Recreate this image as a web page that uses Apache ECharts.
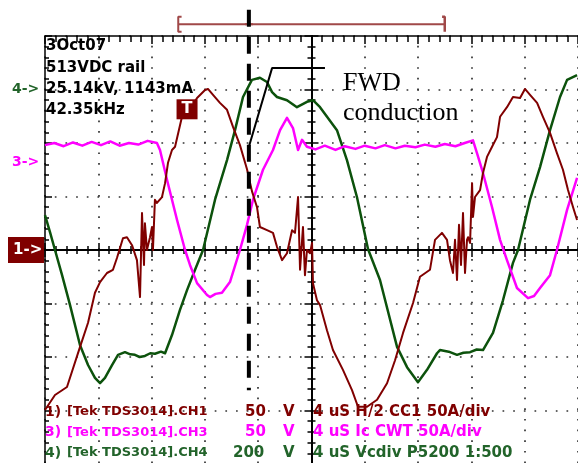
<!DOCTYPE html>
<html>
<head>
<meta charset="utf-8">
<script src="https://cdn.jsdelivr.net/npm/echarts@6/dist/echarts.min.js"></script>
<style>
html,body{margin:0;padding:0;background:#fff;}
#scope{width:578px;height:463px;}
</style>
</head>
<body>
<div id="scope"></div>
<script>
// Horizontal: time in µs (4 µs/div, 0 at screen centre). Vertical: screen divisions.

// CH1 – collector current (H/2 CC1, 50 A/div)
const ch1Points = [
  [-20.0,-2.99],[-19.25,-2.71],[-18.35,-2.56],[-17.37,-1.81],[-16.77,-1.36],[-16.25,-0.80],
  [-15.87,-0.60],[-15.35,-0.43],[-14.9,-0.37],[-14.6,-0.15],[-14.15,0.22],[-13.85,0.24],
  [-13.47,0.09],[-13.1,-0.19],[-12.87,-0.88],[-12.72,0.69],[-12.57,-0.28],[-12.5,0.50],
  [-12.35,0.0],[-12.12,0.24],[-11.97,0.43],[-11.9,0.0],[-11.75,0.94],[-11.6,0.88],
  [-11.22,0.99],[-10.99,1.25],[-10.77,1.63],[-10.47,1.87],[-10.24,1.93],[-9.72,2.49],
  [-9.34,2.56],[-8.59,2.84],[-7.99,2.99],[-7.77,3.01],[-7.39,2.90],[-6.87,2.75],
  [-6.34,2.62],[-5.89,2.30],[-5.37,1.96],[-4.84,1.51],[-4.47,1.10],[-4.09,0.80],
  [-3.87,0.43],[-3.34,0.37],[-2.89,0.32],[-2.59,0.06],[-2.21,-0.19],[-1.84,-0.06],
  [-1.46,0.37],[-1.24,0.32],[-1.01,0.99],[-0.86,-0.37],[-0.64,0.43],[-0.49,-0.47],
  [-0.34,0.0],[-0.11,-0.06],[0.04,0.13],[0.11,-0.62],[0.41,-0.94],[0.64,-1.03],
  [1.16,-1.50],[1.61,-1.87],[2.36,-2.24],[3.04,-2.62],[3.49,-2.93],[4.17,-2.93],
  [4.92,-2.80],[5.67,-2.49],[6.27,-2.06],[6.87,-1.55],[7.62,-0.99],[8.14,-0.50],
  [8.89,-0.37],[9.27,0.19],[9.79,0.32],[10.17,0.19],[10.39,-0.19],[10.62,-0.43],
  [10.77,0.19],[10.92,-0.56],[11.07,0.47],[11.22,-0.28],[11.37,0.69],[11.52,-0.43],
  [11.67,0.19],[11.75,0.24],[11.9,0.13],[12.05,1.25],[12.12,0.62],[12.27,0.99],
  [12.65,1.12],[12.87,1.44],[13.17,1.74],[13.55,1.93],[13.92,2.11],[14.15,2.49],
  [14.67,2.67],[15.12,2.86],[15.65,2.84],[16.02,3.01],[16.4,2.90],[16.93,2.75],
  [17.37,2.49],[17.9,2.19],[18.42,1.81],[18.87,1.50],[19.25,1.12],[19.63,0.80],[19.93,0.56]
];

// CH3 – Ic (CWT, 50 A/div)
const ch3Points = [
  [-20.0,1.96],[-19.3,2.00],[-18.6,1.94],[-17.9,2.01],[-17.2,1.95],[-16.5,2.02],
  [-15.8,1.96],[-15.1,2.03],[-14.4,1.95],[-13.7,2.00],[-13.0,1.97],[-12.3,2.04],
  [-11.6,2.00],[-11.37,1.87],[-10.84,1.31],[-10.09,0.56],[-9.49,0.0],[-9.12,-0.28],
  [-8.59,-0.62],[-7.84,-0.84],[-7.62,-0.88],[-7.2,-0.82],[-6.72,-0.80],[-6.12,-0.60],
  [-5.37,0.0],[-4.84,0.47],[-4.39,0.94],[-3.64,1.50],[-2.89,1.87],[-2.36,2.24],
  [-1.84,2.47],[-1.39,2.28],[-1.01,1.87],[-0.71,2.06],[-0.34,1.93],[0.3,1.88],
  [1.0,1.95],[1.8,1.87],[2.5,1.94],[3.3,1.89],[4.0,1.95],[4.8,1.90],[5.5,1.96],
  [6.3,1.90],[7.0,1.95],[7.8,1.92],[8.5,1.97],[9.3,1.93],[10.0,1.98],[10.8,1.94],
  [11.5,2.00],[12.12,2.05],[12.42,1.81],[12.87,1.44],[13.55,0.80],[14.15,0.19],
  [14.67,-0.19],[15.42,-0.71],[16.25,-0.90],[16.7,-0.86],[17.15,-0.71],[17.9,-0.47],
  [18.42,0.0],[19.18,0.75],[19.93,1.35]
];

// CH4 – Vc (P5200 1:500)
const ch4Points = [
  [-20.0,0.65],[-19.63,0.34],[-19.25,0.0],[-18.72,-0.47],[-18.12,-1.03],[-17.37,-1.78],
  [-16.77,-2.15],[-16.25,-2.39],[-15.87,-2.49],[-15.5,-2.39],[-14.97,-2.15],[-14.52,-1.96],
  [-14.0,-1.91],[-13.6,-1.95],[-13.25,-1.96],[-12.9,-2.00],[-12.5,-1.98],[-12.1,-1.93],
  [-11.75,-1.94],[-11.3,-1.90],[-10.99,-1.93],[-10.47,-1.59],[-9.87,-1.12],[-9.34,-0.75],
  [-8.74,-0.37],[-8.14,0.0],[-7.24,0.94],[-6.34,1.68],[-5.74,2.24],[-5.14,2.86],
  [-4.47,3.18],[-3.87,3.22],[-3.34,3.14],[-2.96,2.95],[-2.59,2.86],[-1.84,2.80],
  [-1.09,2.67],[-0.34,2.77],[0.11,2.80],[0.64,2.67],[1.91,2.24],[2.66,1.68],
  [3.41,0.99],[4.24,0.02],[5.14,-0.56],[6.42,-1.81],[7.17,-2.19],[7.99,-2.47],
  [8.67,-2.24],[9.42,-1.93],[9.64,-1.87],[10.3,-1.90],[10.92,-1.96],[11.4,-1.92],
  [11.9,-1.91],[12.4,-1.86],[12.87,-1.87],[13.62,-1.55],[14.37,-0.94],[15.12,-0.24],
  [15.5,0.0],[16.4,0.94],[17.15,1.55],[17.9,2.24],[18.65,2.86],[19.18,3.18],[19.93,3.27]
];

// Ground-reference markers (divisions above centre)
const channelOffsets = { ch1: 0, ch3: 1.63, ch4: 3.0 };

// Readout text
const infoLines = ['3Oct07', '513VDC rail', '25.14kV, 1143mA', '42.35kHz'];
const channelNames = ['1) [Tek TDS3014].CH1', '3) [Tek TDS3014].CH3', '4) [Tek TDS3014].CH4'];
const channelScales = ['50', '50', '200'];
const channelProbes = ['4 uS H/2 CC1 50A/div', '4 uS Ic CWT 50A/div', '4 uS Vcdiv P5200 1:500'];
const annotationLines = ['FWD', 'conduction'];

// Trigger / record window and annotation positions (µs, div)
const triggerWindow = [-10, 10];
const triggerBarLevel = 4.22;
const fwdMarkerTime = -4.7;
const fwdMarkerSpan = [4.49, -2.62];
const leaderPath = [[-4.77, 1.87], [-2.96, 3.40], [1.01, 3.40]];
const triggerLevelMark = [-9.34, 2.63];

const MAROON = '#800000';
const MAGENTA = '#ff00ff';
const GREEN = '#0c520c';
const GREEN_TXT = '#22642a';

const dotted = { color: '#333', width: 1.7, type: [1.7, 8.96], dashOffset: 0.85 };

function borderAxis(extra) {
  return Object.assign({
    type: 'value', min: -20, max: 20, interval: 4,
    axisLabel: { show: false },
    splitLine: { show: false },
    minorSplitLine: { show: false }
  }, extra);
}

const xAxes = [
  borderAxis({ position: 'top',
    axisLine: { onZero: false, lineStyle: { color: '#000', width: 1.5 } },
    axisTick: { show: true, inside: true, length: 8, lineStyle: { color: '#000', width: 1.5 } },
    minorTick: { show: true, splitNumber: 5, length: 6, lineStyle: { color: '#000', width: 1.5 } },
    splitLine: { show: true, lineStyle: dotted } }),
  borderAxis({ position: 'bottom',
    axisLine: { onZero: true, onZeroAxisIndex: 0, lineStyle: { color: '#000', width: 2 } },
    axisTick: { show: true, inside: true, length: 7, lineStyle: { color: '#000', width: 1.5 } },
    minorTick: { show: true, splitNumber: 5, length: 4, lineStyle: { color: '#000', width: 1.5 } } }),
  borderAxis({ position: 'top',
    axisLine: { onZero: true, onZeroAxisIndex: 0, lineStyle: { color: '#000', width: 2 } },
    axisTick: { show: true, inside: true, length: 7, lineStyle: { color: '#000', width: 1.5 } },
    minorTick: { show: true, splitNumber: 5, length: 4, lineStyle: { color: '#000', width: 1.5 } } })
];

function vAxis(extra) {
  return Object.assign({
    type: 'value', min: -4, max: 4, interval: 1,
    axisLabel: { show: false },
    splitLine: { show: false }
  }, extra);
}

const yAxes = [
  vAxis({ position: 'left',
    axisLine: { onZero: false, lineStyle: { color: '#000', width: 1.5 } },
    axisTick: { show: true, inside: true, length: 7, lineStyle: { color: '#000', width: 1.5 } },
    minorTick: { show: true, splitNumber: 5, length: 4, lineStyle: { color: '#000', width: 1.5 } },
    splitLine: { show: true, lineStyle: dotted } }),
  vAxis({ position: 'left',
    axisLine: { onZero: true, onZeroAxisIndex: 0, lineStyle: { color: '#000', width: 2 } },
    axisTick: { show: true, inside: true, length: 7, lineStyle: { color: '#000', width: 1.5 } },
    minorTick: { show: true, splitNumber: 5, length: 4, lineStyle: { color: '#000', width: 1.5 } } }),
  vAxis({ position: 'right',
    axisLine: { onZero: true, onZeroAxisIndex: 0, lineStyle: { color: '#000', width: 2 } },
    axisTick: { show: true, inside: true, length: 7, lineStyle: { color: '#000', width: 1.5 } },
    minorTick: { show: true, splitNumber: 5, length: 4, lineStyle: { color: '#000', width: 1.5 } } })
];

function trace(name, data, color, width, z) {
  return { name, type: 'line', data, showSymbol: false, symbol: 'none', silent: true,
    animation: false, z, lineStyle: { color, width, join: 'round' } };
}
function overlay(data, color, width, extra) {
  return Object.assign({ type: 'line', data, showSymbol: false, symbol: 'none', silent: true,
    animation: false, clip: false, z: 10,
    lineStyle: { color, width } }, extra || {});
}

const B = triggerBarLevel;
const series = [
  trace('CH4', ch4Points, GREEN, 2.5, 3),
  trace('CH3', ch3Points, MAGENTA, 2.5, 4),
  trace('CH1', ch1Points, MAROON, 2, 5),
  overlay([[triggerWindow[0], B], [triggerWindow[1], B]], '#a04848', 2),
  overlay([[triggerWindow[0] + 0.25, B + 0.14], [triggerWindow[0], B + 0.14], [triggerWindow[0], B - 0.14], [triggerWindow[0] + 0.25, B - 0.14]], '#a04848', 2),
  overlay([[triggerWindow[1] - 0.2, B + 0.14], [triggerWindow[1], B + 0.14], [triggerWindow[1], B - 0.14]], '#a04848', 2.5),
  overlay([[fwdMarkerTime - 0.3, B], [fwdMarkerTime + 0.3, B]], '#a04848', 2),
  overlay([[fwdMarkerTime, fwdMarkerSpan[0]], [fwdMarkerTime, fwdMarkerSpan[1]]], '#000', 4,
    { lineStyle: { color: '#000', width: 4, type: [17, 10] }, z: 12 }),
  overlay(leaderPath, '#000', 2, { z: 12 }),
  { type: 'scatter', data: [triggerLevelMark], symbol: 'rect', symbolSize: [21, 20], silent: true,
    animation: false, z: 11, itemStyle: { color: MAROON, opacity: 1 },
    label: { show: true, position: 'inside', formatter: 'T', color: '#fff',
      fontFamily: 'DejaVu Sans', fontWeight: 'bold', fontSize: 16 } }
];

const chart = echarts.init(document.getElementById('scope'), null, { renderer: 'canvas' });
chart.setOption({
  backgroundColor: '#fff',
  animation: false,
  grid: { left: 45, top: 36, width: 533, height: 428, outerBoundsMode: 'none', containLabel: false },
  xAxis: xAxes,
  yAxis: yAxes,
  series
});

// Readouts, channel markers and annotation text
const toPx = (t, v) => chart.convertToPixel({ seriesIndex: 0 }, [t, v]);
const topFont = { fontFamily: 'DejaVu Sans', fontWeight: 'bold', fontSize: 15 };
const g = [];
infoLines.forEach((s, i) => {
  g.push({ type: 'text', left: 46, top: 39 + i * 21.3, z: 20,
    style: Object.assign({ text: s, fill: '#000' }, topFont) });
});

const markerFont = { fontFamily: 'DejaVu Sans', fontWeight: 'bold', fontSize: 14 };
const y4 = toPx(0, channelOffsets.ch4)[1];
const y3 = toPx(0, channelOffsets.ch3)[1];
const y1 = toPx(0, channelOffsets.ch1)[1];
g.push({ type: 'text', x: 12, y: y4, z: 20,
  style: Object.assign({ text: '4->', fill: GREEN_TXT, verticalAlign: 'middle' }, markerFont) });
g.push({ type: 'text', x: 12, y: y3, z: 20,
  style: Object.assign({ text: '3->', fill: MAGENTA, verticalAlign: 'middle' }, markerFont) });
g.push({ type: 'rect', shape: { x: 8, y: y1 - 13, width: 36, height: 26 }, z: 20,
  style: { fill: MAROON } });
g.push({ type: 'text', x: 13, y: y1, z: 21,
  style: Object.assign({ text: '1->', fill: '#fff', verticalAlign: 'middle' }, markerFont, { fontSize: 15 }) });

const rowColors = [MAROON, MAGENTA, GREEN_TXT];
const leftFont = { fontFamily: 'DejaVu Sans', fontWeight: 'bold', fontSize: 13 };
const rightFont = { fontFamily: 'DejaVu Sans', fontWeight: 'bold', fontSize: 15 };
const scaleX = [245, 245, 233];
channelNames.forEach((s, i) => {
  const y = 412 + i * 20.5;
  const fill = rowColors[i];
  const parts = s.split(' [');
  g.push({ type: 'text', x: 45, y, z: 4, style: Object.assign({ text: parts[0], fill, verticalAlign: 'middle' }, leftFont, { fontSize: 14 }) });
  g.push({ type: 'text', x: 67, y, z: 4, style: Object.assign({ text: '[' + parts[1], fill, verticalAlign: 'middle' }, leftFont) });
  g.push({ type: 'text', x: scaleX[i], y, z: 4, style: Object.assign({ text: channelScales[i], fill, verticalAlign: 'middle' }, rightFont) });
  g.push({ type: 'text', x: 283, y, z: 4, style: Object.assign({ text: 'V', fill, verticalAlign: 'middle' }, rightFont) });
  g.push({ type: 'text', x: 313, y, z: 4, style: Object.assign({ text: channelProbes[i], fill, verticalAlign: 'middle' }, rightFont) });
});

const serif = { fontFamily: 'Liberation Serif', fontSize: 26, fill: '#000', verticalAlign: 'alphabetic' };
g.push({ type: 'text', x: 343, y: 70, z: 20, style: Object.assign({ text: annotationLines[0] }, serif) });
g.push({ type: 'text', x: 343, y: 100, z: 20, style: Object.assign({ text: annotationLines[1] }, serif) });

chart.setOption({ graphic: g });
</script>
</body>
</html>
